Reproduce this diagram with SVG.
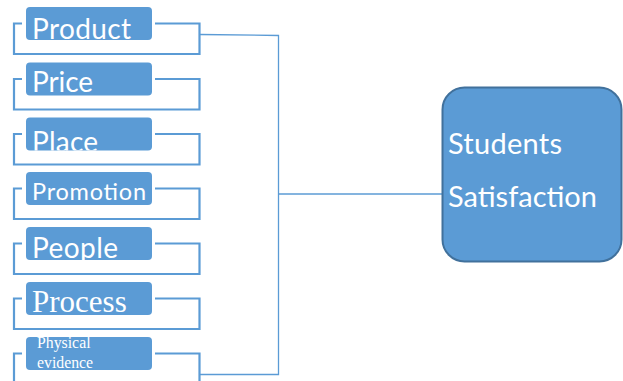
<svg xmlns="http://www.w3.org/2000/svg" width="623" height="381" viewBox="0 0 623 381">
  <style>
    .frame { fill: none; stroke: #5b9bd5; stroke-width: 2.2; }
    .tag { fill: #5b9bd5; }
    .lbl { fill: #ffffff; font-family: Lato, "Liberation Sans", sans-serif; font-size: 28px; }
    .lbl-serif { fill: #ffffff; font-family: "Liberation Serif", serif; }
    .wire { fill: none; stroke: #5b9bd5; stroke-width: 1.3; }
    .hub { fill: #5b9bd5; stroke: #41719c; stroke-width: 2; }
    .hub-lbl { fill: #ffffff; font-family: Lato, "Liberation Sans", sans-serif; font-size: 29px; }
  </style>
  <defs>
    <!-- label tab, in each item's local coordinates -->
    <clipPath id="tabClip" clipPathUnits="userSpaceOnUse">
      <rect x="26" y="0" width="126" height="33" rx="4"/>
    </clipPath>
    <path id="bracket" d="M22,16.5 H14 V47 H199.5 V16.5 H155"/>
  </defs>

  <!-- connectors -->
  <g id="connectors">
    <path class="wire" d="M200,34.5 L278.5,35.5 V374.5 H200"/>
    <path class="wire" d="M278.5,194 H443"/>
  </g>

  <g id="product" transform="translate(0,7)">
    <use href="#bracket" class="frame"/>
    <rect class="tag" x="26" y="0" width="126" height="33" rx="4"/>
    <text class="lbl" x="32" y="32" textLength="99" clip-path="url(#tabClip)">Product</text>
  </g>

  <g id="price" transform="translate(0,62.5)">
    <use href="#bracket" class="frame"/>
    <rect class="tag" x="26" y="0" width="126" height="33" rx="4"/>
    <text class="lbl" x="32" y="29.5" textLength="61" clip-path="url(#tabClip)">Price</text>
  </g>

  <g id="place" transform="translate(0,117.5)">
    <use href="#bracket" class="frame"/>
    <rect class="tag" x="26" y="0" width="126" height="33" rx="4"/>
    <text class="lbl" x="32" y="34" textLength="66" clip-path="url(#tabClip)">Place</text>
  </g>

  <g id="promotion" transform="translate(0,172)">
    <use href="#bracket" class="frame"/>
    <rect class="tag" x="26" y="0" width="126" height="33" rx="4"/>
    <text class="lbl" x="32" y="28" style="font-size:23.5px" textLength="114" clip-path="url(#tabClip)">Promotion</text>
  </g>

  <g id="people" transform="translate(0,227)">
    <use href="#bracket" class="frame"/>
    <rect class="tag" x="26" y="0" width="126" height="33" rx="4"/>
    <text class="lbl" x="32" y="31" textLength="86" clip-path="url(#tabClip)">People</text>
  </g>

  <g id="process" transform="translate(0,282)">
    <use href="#bracket" class="frame"/>
    <rect class="tag" x="26" y="0" width="126" height="33" rx="4"/>
    <text class="lbl-serif" x="32" y="30" style="font-size:31px" clip-path="url(#tabClip)">Process</text>
  </g>

  <g id="physical-evidence" transform="translate(0,337)">
    <path class="frame" d="M22,16.5 H14 V50 M199.5,50 V16.5 H155"/>
    <rect class="tag" x="26" y="0" width="126" height="33" rx="4"/>
    <text class="lbl-serif" style="font-size:15.8px" clip-path="url(#tabClip)">
      <tspan x="37" y="10.5">Physical</tspan>
      <tspan x="37" y="30.5">evidence</tspan>
    </text>
  </g>

  <g id="students-satisfaction">
    <rect class="hub" x="442.5" y="87.5" width="179" height="174" rx="22"/>
    <text class="hub-lbl" x="448" y="154" textLength="114">Students</text>
    <text class="hub-lbl" x="448" y="207" textLength="149">Satisfaction</text>
  </g>
</svg>
